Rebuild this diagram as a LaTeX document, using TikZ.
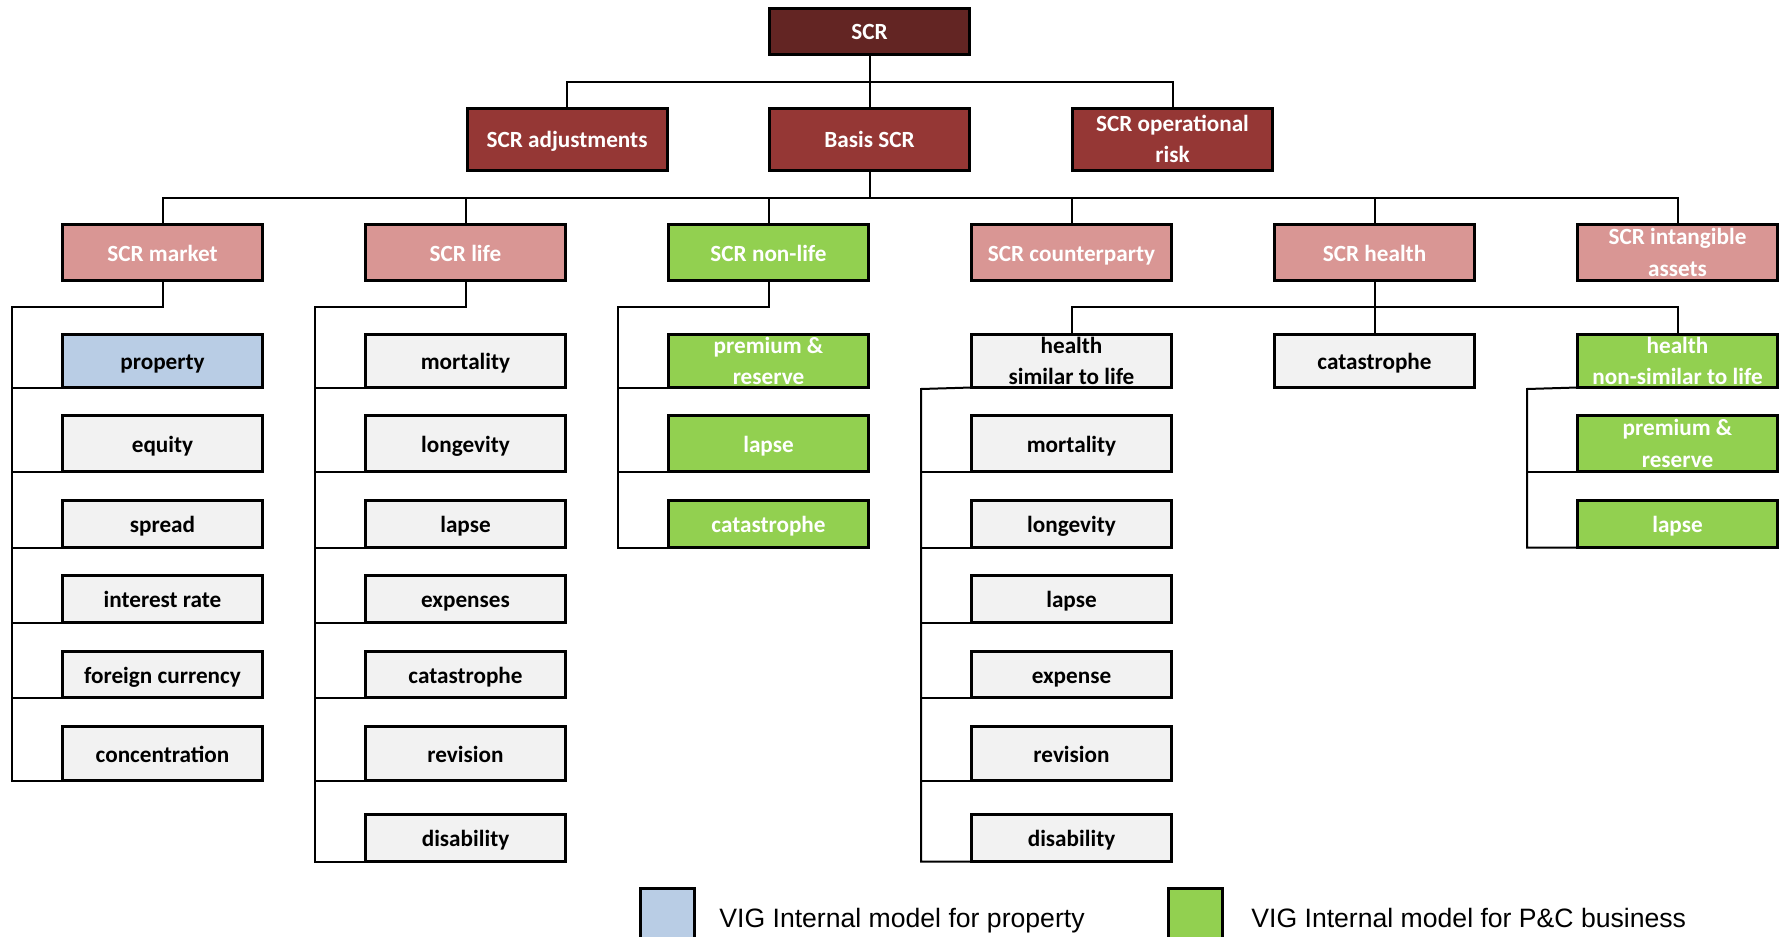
\documentclass[tikz,border=0pt]{standalone}
\usepackage{fontspec}
\setmainfont{Carlito}
\newfontfamily\legendfont{Liberation Sans}
\newcommand\boxstrut{\rule[-2.5pt]{0pt}{13.5pt}}
\definecolor{scrdark}{HTML}{632523}
\definecolor{scrred}{HTML}{953735}
\definecolor{scrpink}{HTML}{D99694}
\definecolor{scrgreen}{HTML}{92D050}
\definecolor{scrgrey}{HTML}{F2F2F2}
\definecolor{scrblue}{HTML}{B9CDE5}
\tikzset{
  boxbase/.style={draw=black, line width=1.5pt, outer sep=0pt, inner sep=0pt,
    minimum width=100pt, align=center,
    font=\fontsize{11.6pt}{15.6pt}\selectfont\bfseries},
  box/.style={boxbase,
    execute at begin node=\boxstrut, execute at end node=\boxstrut},
  boxtwo/.style={boxbase, text height=23.5pt, text depth=0pt},
  fdark/.style={fill=scrdark, text=white},
  fred/.style={fill=scrred, text=white},
  fpink/.style={fill=scrpink, text=white},
  fgreen/.style={fill=scrgreen, text=white},
  fgrey/.style={fill=scrgrey, text=black},
  fblue/.style={fill=scrblue, text=black},
  hzero/.style={minimum height=23pt},
  hone/.style={minimum height=31pt},
  htwo/.style={minimum height=28pt},
  rowa/.style={minimum height=26.5pt},
  rowb/.style={minimum height=28pt},
  rowc/.style={minimum height=23.5pt},
  rowd/.style={minimum height=23.5pt},
  rowe/.style={minimum height=23pt},
  rowf/.style={minimum height=27pt},
  rowg/.style={minimum height=23.5pt},
  conn/.style={draw=black, line width=1pt},
  legsq/.style={draw=black, line width=1.5pt, outer sep=0pt, inner sep=0pt,
    minimum width=27pt, minimum height=36.75pt},
  legtext/.style={anchor=base west, inner sep=0pt, text=black,
    font=\legendfont\fontsize{13.3pt}{16pt}\selectfont},
}
\begin{document}
\begin{tikzpicture}[x=0.5pt,y=-0.5pt]
\useasboundingbox (0,0) rectangle (1780,936);

% level 0 and 1
\node[box, fdark, hzero] (scr) at (869.5,31.5) {SCR};
\node[box, fred, hone] (adj) at (567,139.5) {SCR adjustments};
\node[box, fred, hone] (basis) at (869.5,139.5) {Basis SCR};
\node[boxtwo, fred, hone] (oper) at (1172.5,139.5) {SCR operational\\risk};

% level 2
\node[box, fpink, htwo] (market) at (162.5,252.5) {SCR market};
\node[box, fpink, htwo] (life) at (465.5,252.5) {SCR life};
\node[box, fgreen, htwo] (nonlife) at (768.5,252.5) {SCR non-life};
\node[box, fpink, htwo] (counter) at (1071.5,252.5) {SCR counterparty};
\node[box, fpink, htwo] (health) at (1374.5,252.5) {SCR health};
\node[boxtwo, fpink, htwo] (intang) at (1677.5,252.5) {SCR intangible\\assets};

% market column
\node[box, fblue, rowa] (mka) at (162.5,361) {property};
\node[box, fgrey, rowb] (mkb) at (162.5,443.5) {equity};
\node[box, fgrey, rowc] (mkc) at (162.5,524) {spread};
\node[box, fgrey, rowd] (mkd) at (162.5,599) {interest rate};
\node[box, fgrey, rowe] (mke) at (162.5,674.5) {foreign currency};
\node[box, fgrey, rowf] (mkf) at (162.5,753.5) {concentration};

% life column
\node[box, fgrey, rowa] (lfa) at (465.5,361) {mortality};
\node[box, fgrey, rowb] (lfb) at (465.5,443.5) {longevity};
\node[box, fgrey, rowc] (lfc) at (465.5,524) {lapse};
\node[box, fgrey, rowd] (lfd) at (465.5,599) {expenses};
\node[box, fgrey, rowe] (lfe) at (465.5,674.5) {catastrophe};
\node[box, fgrey, rowf] (lff) at (465.5,753.5) {revision};
\node[box, fgrey, rowg] (lfg) at (465.5,838) {disability};

% non-life column
\node[boxtwo, fgreen, rowa] (nla) at (768.5,361) {premium \&\\reserve};
\node[box, fgreen, rowb] (nlb) at (768.5,443.5) {lapse};
\node[box, fgreen, rowc] (nlc) at (768.5,524) {catastrophe};

% health
\node[boxtwo, fgrey, rowa] (hsim) at (1071.5,361) {health\\similar to life};
\node[box, fgrey, rowa] (hcat) at (1374.5,361) {catastrophe};
\node[boxtwo, fgreen, rowa] (hnon) at (1677.5,361) {health\\non-similar to life};

\node[box, fgrey, rowb] (hsb) at (1071.5,443.5) {mortality};
\node[box, fgrey, rowc] (hsc) at (1071.5,524) {longevity};
\node[box, fgrey, rowd] (hsd) at (1071.5,599) {lapse};
\node[box, fgrey, rowe] (hse) at (1071.5,674.5) {expense};
\node[box, fgrey, rowf] (hsf) at (1071.5,753.5) {revision};
\node[box, fgrey, rowg] (hsg) at (1071.5,838) {disability};

\node[boxtwo, fgreen, rowb] (hnb) at (1677.5,443.5) {premium \&\\reserve};
\node[box, fgreen, rowc] (hnc) at (1677.5,524) {lapse};

% bus coordinates
\coordinate (busa) at (869.5,82);
\coordinate (busb) at (869.5,198);
\coordinate (mkv) at (12,307);
\coordinate (lfv) at (315,307);
\coordinate (nlv) at (618,307);
\coordinate (hbus) at (1374.5,307);
\coordinate (hsv) at (921,389);
\coordinate (hnv) at (1527,389);

% level 0 -> 1
\draw[conn] (scr.south) -- (busa);
\draw[conn] (adj.north) |- (busa) -| (oper.north);
\draw[conn] (busa) -- (basis.north);

% level 1 -> 2
\draw[conn] (basis.south) -- (busb);
\draw[conn] (market.north) |- (busb) -| (intang.north);
\draw[conn] (life.north) -- (life.north |- busb);
\draw[conn] (nonlife.north) -- (nonlife.north |- busb);
\draw[conn] (counter.north) -- (counter.north |- busb);
\draw[conn] (health.north) -- (health.north |- busb);

% market connectors
\draw[conn] (market.south) |- (mkv) -- (mkv |- mkf.south west) -- (mkf.south west);
\foreach \n in {mka,mkb,mkc,mkd,mke}
  \draw[conn] (mkv |- \n.south west) -- (\n.south west);

% life connectors
\draw[conn] (life.south) |- (lfv) -- (lfv |- lfg.south west) -- (lfg.south west);
\foreach \n in {lfa,lfb,lfc,lfd,lfe,lff}
  \draw[conn] (lfv |- \n.south west) -- (\n.south west);

% non-life connectors
\draw[conn] (nonlife.south) |- (nlv) -- (nlv |- nlc.south west) -- (nlc.south west);
\foreach \n in {nla,nlb}
  \draw[conn] (nlv |- \n.south west) -- (\n.south west);

% health connectors
\draw[conn] (health.south) -- (hcat.north);
\draw[conn] (hsim.north) |- (hbus) -| (hnon.north);
\draw[conn] (hsim.south west) -- (hsv) -- (hsv |- hsg.south west) -- (hsg.south west);
\foreach \n in {hsb,hsc,hsd,hse,hsf}
  \draw[conn] (hsv |- \n.south west) -- (\n.south west);
\draw[conn] (hnon.south west) -- (hnv) -- (hnv |- hnc.south west) -- (hnc.south west);
\draw[conn] (hnv |- hnb.south west) -- (hnb.south west);

% legend
\node[legsq, fill=scrblue] (lega) at (667.5,925) {};
\node[legtext] (legat) at (719,927) {VIG Internal model for property};
\node[legsq, fill=scrgreen] (legb) at (1195.5,925) {};
\node[legtext] (legbt) at (1251,927) {VIG Internal model for P\&C business};
\end{tikzpicture}
\end{document}
